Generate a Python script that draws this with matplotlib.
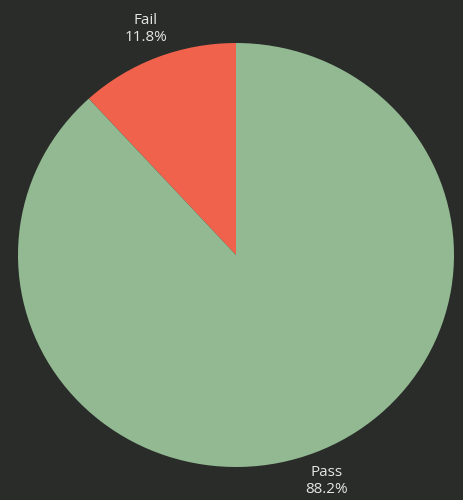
import matplotlib.pyplot as plt

labels = ["Fail", "Pass"]
shares = [11.8, 88.2]
colors = ["#f1624c", "#92b992"]

BG = "#292c29"

fig = plt.figure(figsize=(4.63, 5.0), dpi=100, facecolor=BG)
ax = fig.add_axes([0, 0, 1, 1])
ax.set_facecolor(BG)

# pie centred at (236, 255) px, slightly squashed: 218 px wide radius, 212 px tall
rx, ry = 218.0, 212.0
cx, cy = 236.0, 255.0
wedges, texts = ax.pie(
    shares,
    colors=colors,
    startangle=90,
    radius=1.0,
    labels=[f"{lab}\n{v}%" for lab, v in zip(labels, shares)],
    labeldistance=1.145,
    wedgeprops=dict(linewidth=0),
    textprops=dict(color="#e4e4e4", fontsize=11, family="Open Sans",
                   ha="center", va="center", linespacing=1.2),
)
for t in texts:
    t.set_horizontalalignment("center")

ax.set_aspect("auto")
ax.set_xlim(-cx / rx, (463 - cx) / rx)
ax.set_ylim(-(500 - cy) / ry, cy / ry)
ax.axis("off")

fig.savefig("out.png", dpi=100, facecolor=BG)
